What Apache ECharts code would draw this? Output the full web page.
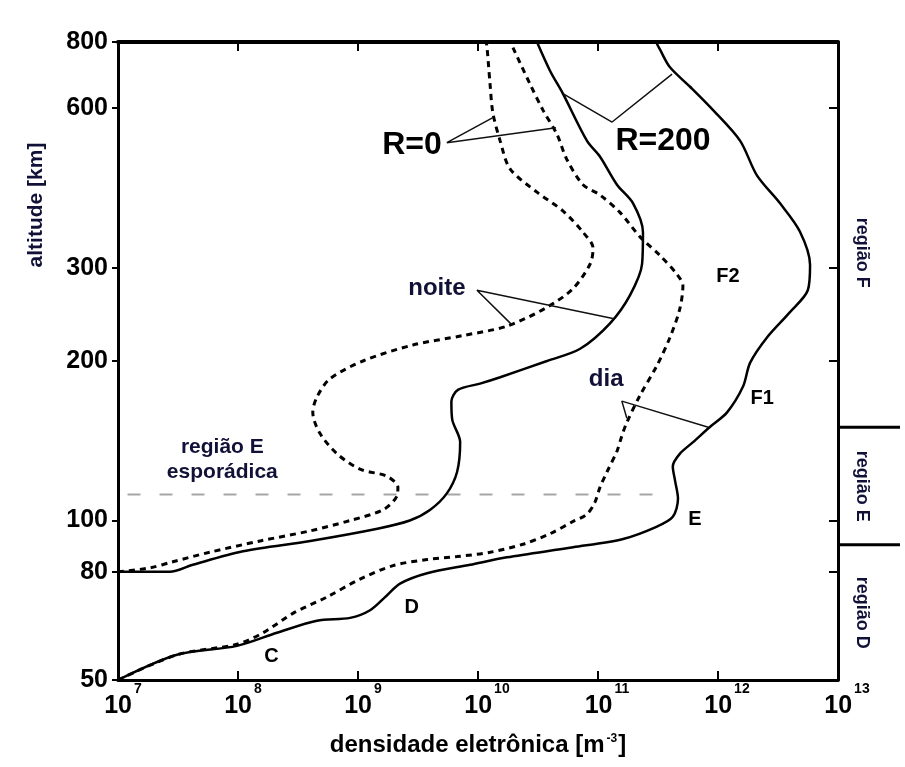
<!DOCTYPE html>
<html>
<head>
<meta charset="utf-8">
<script src="https://cdn.jsdelivr.net/npm/echarts@6/dist/echarts.min.js"></script>
<style>
html,body{margin:0;padding:0;background:#fff;}
#chart{width:905px;height:767px;}
</style>
</head>
<body>
<div id="chart"></div>
<script>
// ---- axis ticks ----
const xTicks = [1e7, 1e8, 1e9, 1e10, 1e11, 1e12, 1e13];
const yTicks = [50, 80, 100, 200, 300, 600, 800];

// ---- profiles: [electron density m^-3, altitude km] ----
const nightR200 = [[1e7,80],[2.7e7,80],[4.2e7,82.5],[1.1e8,87.5],[4.0e8,91.5],[1.45e9,96.5],[2.7e9,100],[4.0e9,104.8],[5.5e9,112.5],[6.7e9,123.6],[7.1e9,140.6],[6.1e9,155],[6.0e9,167.7],[6.8e9,176.4],[1.04e10,181.3],[1.53e10,186.4],[3.76e10,200],[7.1e10,210.9],[1.26e11,235.6],[1.85e11,266.3],[2.33e11,304.9],[2.37e11,350],[1.96e11,396.8],[1.44e11,430.3],[1.04e11,486],[8.1e10,520.6],[5.1e10,639.3],[4.0e10,704.6],[3.1e10,800]];
const nightR0 = [[1e7,80],[1.85e7,81.4],[2.87e7,83.6],[5.8e7,87.1],[1.53e8,91.5],[4.0e8,95.6],[8.6e8,100],[1.62e9,104.8],[2.11e9,111.2],[2.15e9,115.6],[1.74e9,121.2],[1.04e9,125],[6.7e8,133.6],[4.8e8,146.2],[4.2e8,160],[4.55e8,171],[5.8e8,184.9],[1.1e9,200],[2.87e9,214.4],[7.5e9,223.4],[1.74e10,232.7],[3.76e10,252.6],[6.2e10,274.1],[8.6e10,304.9],[9.1e10,326.7],[7.5e10,350],[5.1e10,384],[3.1e10,416.6],[1.85e10,461],[1.53e10,520.6],[1.33e10,588],[1.26e10,666.8],[1.19e10,780],[1.17e10,800]];
const dayR200 = [[1e7,50],[3.1e7,55.8],[9.8e7,58],[2.11e8,61.4],[4.55e8,64.7],[8.6e8,65.5],[1.26e9,67.7],[1.74e9,72.2],[2.24e9,76],[3.76e9,79.5],[8.6e9,82.5],[1.74e10,85.2],[6.2e10,89],[1.62e11,92.3],[3.1e11,97.4],[4.2e11,101.6],[4.64e11,109.9],[4.39e11,118.8],[4.2e11,126.5],[4.8e11,133.6],[6.2e11,140.6],[8.6e11,150.3],[1.19e12,160],[1.62e12,179.2],[1.85e12,198.4],[2.56e12,221.6],[3.98e12,247.4],[5.6e12,272],[5.85e12,303.7],[4.8e12,351.4],[3.29e12,396.8],[2.11e12,448.1],[1.53e12,520.6],[9.1e11,595],[5.85e11,658.6],[3.98e11,716.6],[3.29e11,773.6],[3.04e11,800]];
const dayR0 = [[1e7,50],[3.1e7,55.8],[9.8e7,58.4],[1.62e8,61.4],[2.87e8,66.8],[5.5e8,71.7],[1.04e9,77.5],[1.96e9,82.2],[3.76e9,84.4],[6.7e9,85.5],[1.26e10,87.1],[2.37e10,90.2],[3.98e10,94.4],[6.2e10,99.6],[8.1e10,102.8],[9.4e10,108.1],[1.04e11,115.6],[1.19e11,123.6],[1.44e11,135.2],[1.58e11,144.5],[1.74e11,153.2],[2.24e11,172.3],[3.1e11,196.1],[3.98e11,221.6],[4.8e11,250.6],[5.1e11,277.5],[4.55e11,291.5],[3.29e11,316.2],[2.24e11,343],[1.53e11,381.1],[1.04e11,411.5],[7.5e10,430.3],[5.5e10,480.2],[4.55e10,535.6],[3.48e10,595],[2.71e10,666.8],[1.96e10,780],[1.88e10,800]];

// sporadic E level (km) and its extent
const sporadicE = [[1.2e7,112],[4.1e11,112]];

// region boundaries (km) and region labels
const regionBounds = [150, 90];
const regionNames = ['região F', 'região E', 'região D'];
const regionLabelAlt = [320, 116, 67];

// annotation texts and anchor points
const annTexts = ['R=0', 'R=200', 'noite', 'dia', 'F2', 'F1', 'E', 'D', 'C', 'região E\nesporádica'];
const annPos = [[2.82e9,510],[3.48e11,519],[4.55e9,274],[1.17e11,185],[1.21e12,289],[2.33e12,170],[6.43e11,100.4],[2.8e9,68.6],[1.9e8,55.4],[7.4e7,130]];
const annKind = ['big','big','navy','navy','small','small','small','small','small','navySmall'];

// leader lines
const leaderR0 = [[1.33e10,576],[5.5e9,516.5],[4.47e10,551]];
const leaderR200 = [[5.1e10,639],[1.31e11,565],[4.14e11,696]];
const leaderNoite = [[1.92e10,234],[9.8e9,272],[1.33e11,240.5]];
const leaderDia = [[1.74e11,156],[1.58e11,168],[8.3e11,150]];

const FONT = "'Liberation Sans', Arial, Helvetica, sans-serif";
const NAVY = '#111138';

const chart = echarts.init(document.getElementById('chart'));

const kindStyle = {
  big: {fontSize: 32, color: '#000'},
  navy: {fontSize: 24, color: NAVY},
  small: {fontSize: 20, color: '#000'},
  navySmall: {fontSize: 21, color: NAVY, lineHeight: 25}
};

const lineSeries = (data, dashed) => ({
  type: 'line', xAxisIndex: 0, yAxisIndex: 0, data: data,
  showSymbol: false, symbol: 'none', smooth: 0.3, silent: true,
  lineStyle: {color: '#000', width: dashed ? 3 : 2.5, type: dashed ? [6, 5] : 'solid'}
});
const leaderSeries = (data) => ({
  type: 'line', xAxisIndex: 0, yAxisIndex: 0, data: data,
  showSymbol: false, symbol: 'none', silent: true, z: 3,
  lineStyle: {color: '#111', width: 1.5}
});

const series = [
  lineSeries(nightR200, false),
  lineSeries(nightR0, true),
  lineSeries(dayR200, false),
  lineSeries(dayR0, true),
  {
    type: 'line', xAxisIndex: 0, yAxisIndex: 0, data: sporadicE,
    showSymbol: false, symbol: 'none', silent: true, z: 1,
    lineStyle: {color: '#a6a6a6', width: 2, type: [13, 19]}
  },
  leaderSeries(leaderR0),
  leaderSeries(leaderR200),
  leaderSeries(leaderNoite),
  leaderSeries(leaderDia),
  {
    type: 'scatter', xAxisIndex: 0, yAxisIndex: 0, silent: true, z: 5,
    symbolSize: 1, itemStyle: {color: 'transparent', opacity: 1},
    data: annPos.map((p, i) => ({
      value: p,
      label: Object.assign({
        show: true, position: 'inside', formatter: annTexts[i], opacity: 1,
        fontFamily: FONT, fontWeight: 'bold', align: 'center', verticalAlign: 'middle'
      }, kindStyle[annKind[i]])
    }))
  }
];

regionBounds.forEach(b => {
  series.push({
    type: 'line', xAxisIndex: 2, yAxisIndex: 2, data: [[0, b], [1, b]],
    showSymbol: false, symbol: 'none', silent: true,
    lineStyle: {color: '#000', width: 3}
  });
});
series.push({
  type: 'scatter', xAxisIndex: 2, yAxisIndex: 2, silent: true,
  symbolSize: 1, itemStyle: {color: 'transparent', opacity: 1},
  data: regionLabelAlt.map((a, i) => ({
    value: [0.38, a],
    label: {
      show: true, position: 'inside', rotate: -90, formatter: regionNames[i], opacity: 1,
      fontFamily: FONT, fontWeight: 'bold', fontSize: 18, color: NAVY
    }
  }))
});

const supRich = {
  b1: {fontSize: 25, fontWeight: 'bold', fontFamily: FONT, color: '#000', padding: [12, 0, 0, 10]},
  b2: {fontSize: 25, fontWeight: 'bold', fontFamily: FONT, color: '#000', padding: [12, 0, 0, 18]},
  s: {fontSize: 14, fontWeight: 'bold', fontFamily: FONT, color: '#000', verticalAlign: 'top', padding: [0, 0, 0, 2]}
};

const option = {
  backgroundColor: '#fff',
  animation: false,
  grid: [
    {left: 118, top: 42, width: 720, height: 638, outerBoundsMode: 'none'},
    {left: 838, top: 42, width: 62, height: 638, outerBoundsMode: 'none'}
  ],
  xAxis: [
    {
      type: 'log', logBase: 10, gridIndex: 0, position: 'bottom', min: 1e7, max: 1e13,
      axisLine: {show: true, lineStyle: {color: '#000', width: 3}},
      axisTick: {show: true, inside: true, length: 9, customValues: xTicks, lineStyle: {color: '#000', width: 2}},
      axisLabel: {
        customValues: xTicks, margin: 2,
        formatter: v => { const e = Math.round(Math.log10(v)); return '{' + (e >= 10 ? 'b2' : 'b1') + '|10}{s|' + e + '}'; },
        rich: supRich
      },
      splitLine: {show: false}, minorTick: {show: false},
      name: 'densidade eletrônica [m{s|-3}]', nameLocation: 'middle', nameGap: 53,
      nameTextStyle: {
        fontFamily: FONT, fontWeight: 'bold', fontSize: 24, color: '#000',
        rich: {s: {fontFamily: FONT, fontWeight: 'bold', fontSize: 12, color: '#000', verticalAlign: 'top', padding: [0, 1, 0, 2]}}
      }
    },
    {
      type: 'log', logBase: 10, gridIndex: 0, position: 'top', min: 1e7, max: 1e13,
      axisLine: {show: true, lineStyle: {color: '#000', width: 4}},
      axisTick: {show: true, inside: true, length: 9, customValues: xTicks, lineStyle: {color: '#000', width: 2}},
      axisLabel: {show: false}, splitLine: {show: false}
    },
    {type: 'value', gridIndex: 1, min: 0, max: 1, show: false}
  ],
  yAxis: [
    {
      type: 'log', logBase: 10, gridIndex: 0, position: 'left', min: 50, max: 800,
      axisLine: {show: true, lineStyle: {color: '#000', width: 3}},
      axisTick: {show: true, inside: false, length: 6, customValues: yTicks, lineStyle: {color: '#000', width: 2}},
      axisLabel: {
        customValues: yTicks, margin: 10, formatter: v => String(Math.round(v)),
        fontFamily: FONT, fontWeight: 'bold', fontSize: 25, color: '#000'
      },
      splitLine: {show: false}
    },
    {
      type: 'log', logBase: 10, gridIndex: 0, position: 'right', min: 50, max: 800,
      axisLine: {show: true, lineStyle: {color: '#000', width: 3}},
      axisTick: {show: true, inside: true, length: 9, customValues: yTicks, lineStyle: {color: '#000', width: 2}},
      axisLabel: {show: false}, splitLine: {show: false}
    },
    {type: 'log', logBase: 10, gridIndex: 1, min: 50, max: 800, show: false}
  ],
  graphic: [{
    type: 'text', x: 36, y: 205, rotation: Math.PI / 2,
    style: {text: 'altitude [km]', font: 'bold 21px ' + FONT, fill: NAVY, align: 'center', verticalAlign: 'middle'}
  }],
  series: series
};

chart.setOption(option);
</script>
</body>
</html>
